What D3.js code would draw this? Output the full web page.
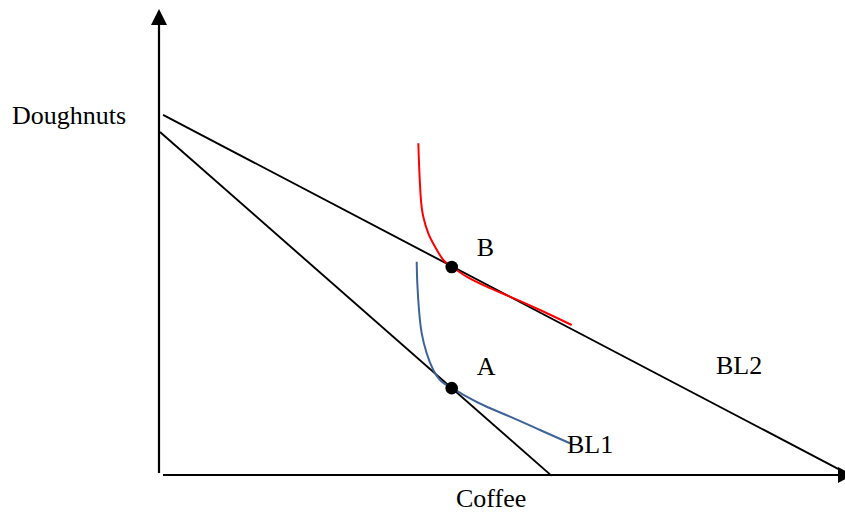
<!DOCTYPE html>
<html>
<head>
<meta charset="utf-8">
<script src="https://cdn.jsdelivr.net/npm/d3@7"></script>
<style>
  body { margin: 0; background: #fff; }
  text { font-family: "Liberation Serif", "Times New Roman", serif; font-size: 26px; fill: #000; }
</style>
</head>
<body>
<div id="chart-area"></div>
<script>
// budget lines (coffee, doughnuts)
var bl1 = [[0, 73.7], [57.6, -0.4]];
var bl2 = [[0.45, 77.4], [100, 0.9]];

// indifference curves
var curveRed = [[37.99, 71.27], [38.09, 66.96], [38.34, 59.76], [38.72, 55.45], [39.46, 51.87],
    [40.44, 48.99], [41.66, 46.12], [42.90, 44.68], [45.10, 42.52], [48.04, 40.37],
    [51.47, 38.21], [55.88, 35.34], [60.54, 32.11]];
var curveBlue = [[37.75, 45.75], [37.84, 41.10], [38.09, 35.34], [38.49, 30.32], [39.22, 26.01],
    [40.19, 22.41], [41.43, 19.89], [42.90, 18.60], [45.10, 16.66], [48.04, 14.50],
    [51.47, 12.35], [55.88, 9.48], [60.29, 6.62]];

// tangency points
var pointNames = ["B", "A"];
var pointX = [42.9, 42.9];
var pointY = [44.6, 18.5];

var width = 845, height = 514;

var svg = d3.select("#chart-area")
    .append("svg")
        .attr("width", width)
        .attr("height", height);

// Scales
var x = d3.scaleLinear().domain([0, 100]).range([160, 840]);
var y = d3.scaleLinear().domain([0, 100]).range([474, 10]);

// Axes (no ticks, just arrows)
var ax = x(0) - 1, ay = y(0) + 1;
svg.append("line")
    .attr("x1", ax).attr("y1", ay - 2)
    .attr("x2", ax).attr("y2", 24)
    .attr("stroke", "#000").attr("stroke-width", 2.2);
svg.append("path")
    .attr("d", "M" + ax + ",9L" + (ax - 8) + ",25L" + (ax + 8) + ",25Z")
    .attr("fill", "#000");

svg.append("line")
    .attr("x1", ax + 4).attr("y1", ay)
    .attr("x2", 839).attr("y2", ay)
    .attr("stroke", "#000").attr("stroke-width", 2.2);
svg.append("path")
    .attr("d", "M853," + ay + "L838," + (ay - 8) + "L838," + (ay + 8) + "Z")
    .attr("fill", "#000");

// Budget lines
var line = d3.line().x(function(d){ return x(d[0]); }).y(function(d){ return y(d[1]); });
[bl1, bl2].forEach(function(bl){
    svg.append("path")
        .attr("d", line(bl))
        .attr("fill", "none")
        .attr("stroke", "#000")
        .attr("stroke-width", 1.9);
});

// Indifference curves
var smooth = d3.line()
    .x(function(d){ return x(d[0]); })
    .y(function(d){ return y(d[1]); })
    .curve(d3.curveNatural);
svg.append("path")
    .attr("d", smooth(curveRed))
    .attr("fill", "none")
    .attr("stroke", "#ff0000")
    .attr("stroke-width", 2);
svg.append("path")
    .attr("d", smooth(curveBlue))
    .attr("fill", "none")
    .attr("stroke", "#3d6399")
    .attr("stroke-width", 2);

// Points
pointNames.forEach(function(name, i){
    svg.append("circle")
        .attr("cx", x(pointX[i]))
        .attr("cy", y(pointY[i]))
        .attr("r", 6.3)
        .attr("fill", "#000");
    svg.append("text")
        .attr("x", x(pointX[i]) + 25)
        .attr("y", y(pointY[i]) - (i == 0 ? 11 : 13))
        .text(name);
});

// Labels
svg.append("text").attr("x", 12).attr("y", 124).text("Doughnuts");
svg.append("text").attr("x", 456).attr("y", 507).text("Coffee");
svg.append("text").attr("x", 567).attr("y", 453).text("BL1");
svg.append("text").attr("x", 716).attr("y", 374).text("BL2");
</script>
</body>
</html>
